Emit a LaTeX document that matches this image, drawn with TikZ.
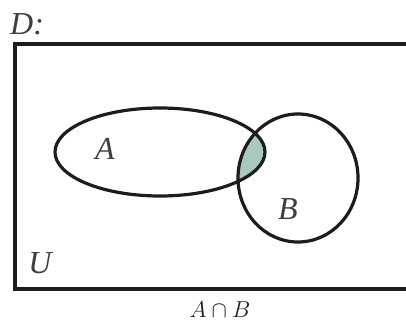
\documentclass[tikz,border=0pt]{standalone}
\usepackage{fix-cm}
\usepackage{fontspec}
\setmainfont{Liberation Serif}
\definecolor{inkc}{HTML}{1C1C1C}
\definecolor{capc}{HTML}{A9C9BF}
\begin{document}
\begin{tikzpicture}[x=1pt,y=-1pt,
  setline/.style={draw=inkc,line width=3.2pt},
  lbl/.style={font=\fontsize{32}{32}\selectfont\itshape,text=inkc!85,inner sep=0pt}]
\useasboundingbox (0,0) rectangle (406,325);
\clip (0,0) rectangle (406,325);
\fill[white] (0,0) rectangle (406,325);
\begin{scope}
  \clip (160,152) ellipse [x radius=105, y radius=44];
  \fill[capc] (298,178) ellipse [x radius=60, y radius=64];
\end{scope}
\draw[setline] (420,44) -- (15,44) -- (15,289) -- (420,289);
\draw[setline] (160,152) ellipse [x radius=105, y radius=44];
\draw[setline] (298,178) ellipse [x radius=60, y radius=64];
\node[lbl] (la) at (105,149) {A};
\node[lbl] (lb) at (288,209) {B};
\node[lbl] (lu) at (40,263) {U};
\node[lbl,anchor=west] (ld) at (10,24) {D:};
\node[inner sep=0pt,text=inkc] (lab) at (220,310) {\fontsize{23}{23}\selectfont$A\cap B$};
\end{tikzpicture}
\end{document}
